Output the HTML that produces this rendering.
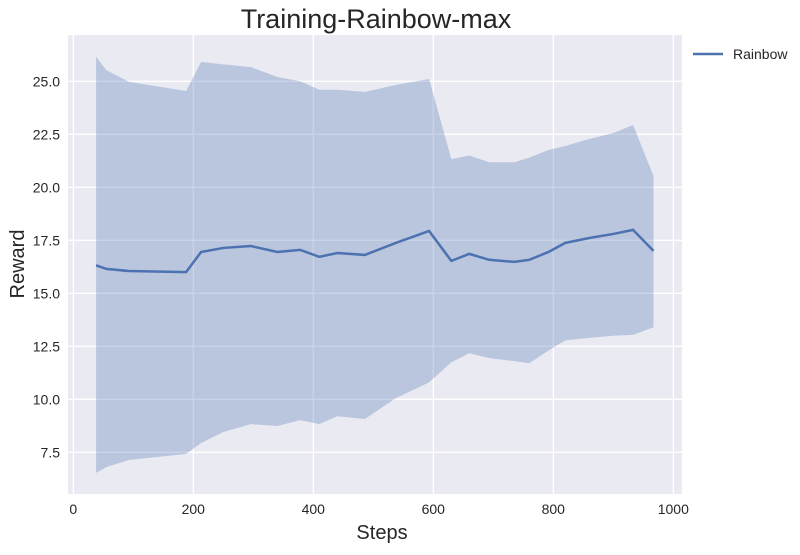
<!DOCTYPE html>
<html><head><meta charset="utf-8"><style>
body{margin:0;background:#fff;font-family:"Liberation Sans",sans-serif}
svg text{font-family:"Liberation Sans",sans-serif}
</style></head><body>
<svg id="c" width="800" height="550">
<rect x="68" y="35" width="614" height="459" fill="#eaeaf2"/>
<g id="grid"></g>
<g id="marks"></g>
<g id="ticks"></g>
<text x="376" y="28" font-size="27" text-anchor="middle" fill="#262626">Training-Rainbow-max</text>
<text x="382" y="539" font-size="20" text-anchor="middle" fill="#262626">Steps</text>
<text transform="translate(24,264) rotate(-90)" font-size="20" text-anchor="middle" fill="#262626">Reward</text>
<g>
<line x1="693" y1="54" x2="723" y2="54" stroke="#4c72b0" stroke-width="2.5"/>
<text x="733" y="59" font-size="14" fill="#262626">Rainbow</text>
</g>
</svg>
<script>
const steps=[38,55,93,188,213,250,296,340,378,410,440,486,538,593,630,660,693,735,760,792,820,860,900,933,967];
const meanVals=[16.32,16.15,16.05,16.0,16.95,17.14,17.23,16.95,17.05,16.72,16.9,16.81,17.38,17.94,16.53,16.86,16.58,16.48,16.58,16.95,17.38,17.61,17.8,17.99,17.0];
const upperVals=[26.15,25.53,24.97,24.54,25.91,25.8,25.67,25.2,25.0,24.6,24.6,24.5,24.83,25.11,21.33,21.5,21.18,21.18,21.4,21.76,21.95,22.28,22.56,22.94,20.53];
const lowerVals=[6.53,6.8,7.14,7.42,7.94,8.46,8.83,8.74,9.02,8.83,9.2,9.07,10.06,10.8,11.75,12.17,11.94,11.8,11.7,12.3,12.78,12.9,13.0,13.04,13.4];
const xTicks=[0,200,400,600,800,1000];
const yTicks=[7.5,10.0,12.5,15.0,17.5,20.0,22.5,25.0];
const X=s=>73.3+0.6*s, Y=v=>81.3+(25-v)*21.2;
const NS="http://www.w3.org/2000/svg";
const grid=document.getElementById('grid'),marks=document.getElementById('marks'),ticks=document.getElementById('ticks');
function mk(tag,attrs,parent){const e=document.createElementNS(NS,tag);for(const k in attrs)e.setAttribute(k,attrs[k]);parent.appendChild(e);return e;}
xTicks.forEach(t=>{
 const l=mk('line',{x1:X(t),x2:X(t),y1:35,y2:494,stroke:'#fff','stroke-width':1.3},grid);
 
 
 const tx=mk('text',{x:X(t),y:514,'font-size':14,'text-anchor':'middle',fill:'#262626'},ticks);
 tx.textContent=t;
 
 
});
yTicks.forEach(t=>{
 const l=mk('line',{x1:68,x2:682,y1:Y(t),y2:Y(t),stroke:'#fff','stroke-width':1.3},grid);
 
 
 const tx=mk('text',{x:60,y:Y(t)+5,'font-size':14,'text-anchor':'end',fill:'#262626'},ticks);
 tx.textContent=t.toFixed(1);
 
 
});
let d=steps.map((s,i)=>(i?'L':'M')+X(s)+','+Y(upperVals[i])).join('');
for(let i=steps.length-1;i>=0;i--)d+='L'+X(steps[i])+','+Y(lowerVals[i]);
const band=mk('path',{d:d+'Z',fill:'#4c72b0','fill-opacity':0.3},marks);


const line=mk('path',{d:steps.map((s,i)=>(i?'L':'M')+X(s)+','+Y(meanVals[i])).join(''),fill:'none',stroke:'#4c72b0','stroke-width':2.5},marks);


</script>
</body></html>
